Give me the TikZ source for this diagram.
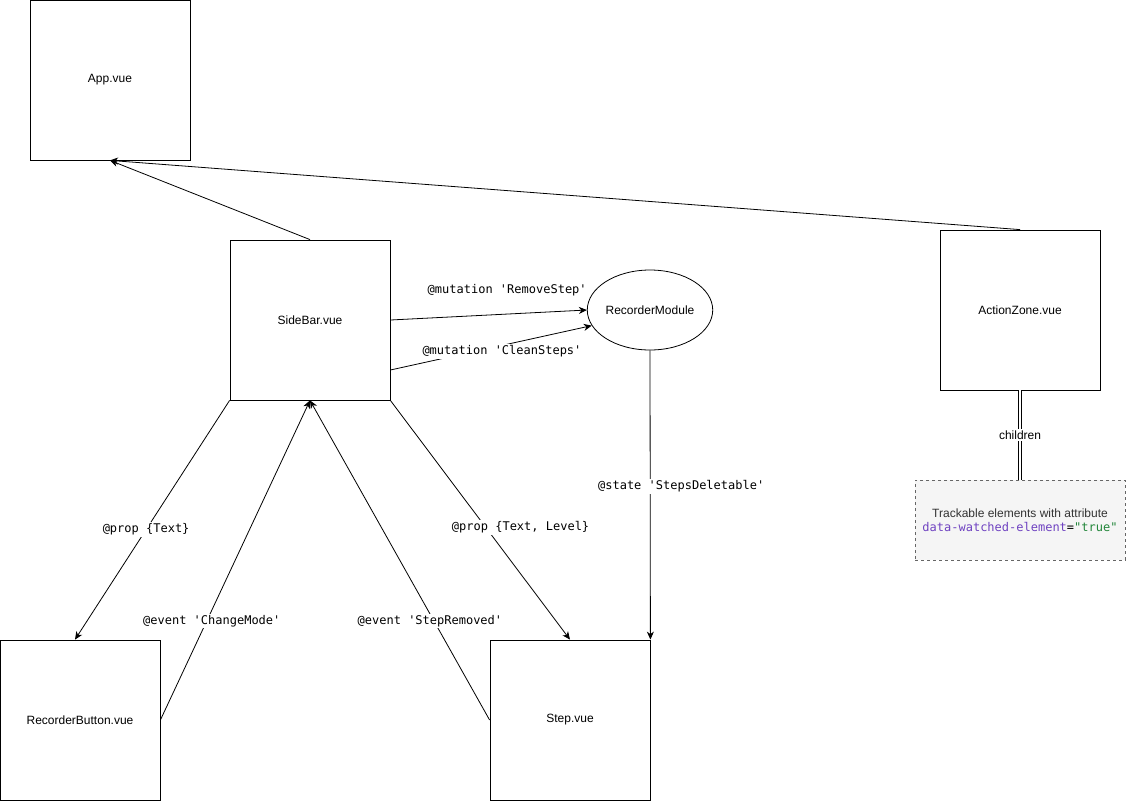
\documentclass[tikz,border=0pt]{standalone}
\usepackage{fontspec}
\setmainfont{Liberation Sans}
\setmonofont{DejaVu Sans Mono}
\usetikzlibrary{shapes.geometric, arrows.meta}
\definecolor{attrpurple}{HTML}{6F42C1}
\definecolor{attrgreen}{HTML}{22863A}
\definecolor{notefill}{HTML}{F5F5F5}
\definecolor{noteline}{HTML}{666666}
\definecolor{notetext}{HTML}{333333}
\newcommand\diafont{\fontsize{12pt}{14pt}\selectfont}
\tikzset{
  >={Stealth[length=8pt, width=7pt, inset=2.5pt]},
  comp/.style={draw, fill=white, minimum width=160pt, minimum height=160pt, inner sep=0pt},
  store/.style={draw, ellipse, fill=white, minimum width=120pt, minimum height=80pt, inner sep=0pt},
  note/.style={draw=noteline, dash pattern=on 3pt off 3pt, fill=notefill, text=notetext,
    minimum width=210pt, minimum height=80pt, inner sep=0pt, align=center},
  lbl/.style={fill=white, font=\diafont\ttfamily, inner sep=1.5pt},
  plainlbl/.style={fill=white, font=\diafont, inner sep=1.5pt},
}
\begin{document}
\begin{tikzpicture}[x=1pt, y=-1pt, line width=0.8pt, font=\diafont]
    \useasboundingbox (0,0) rectangle (1126,801);
    \draw (110,80)node(app)[comp]{App.vue}
    (310,320)node(sidebar)[comp]{SideBar.vue}
    (1020,310)node(zone)[comp]{ActionZone.vue}
    (650,310)node(recmod)[store]{RecorderModule}
    (80,720)node(recbtn)[comp]{RecorderButton.vue}
    (570,720)node(step)[comp]{Step.vue}
    (1020,520)node(track)[note]{Trackable elements with attribute\\{\ttfamily\color{attrpurple}data-watched-element\color{black}=\color{attrgreen}"true"}};
    \draw [->](sidebar.north)--(app.south);
    \draw [->](zone.north)--(app.south);
    \draw [->](sidebar.east)--(recmod.west)
      node[lbl, fill=none, pos=0.62, yshift=24pt, xshift=-5pt]{@mutation 'RemoveStep'};
    \draw [->]([yshift=-50pt]sidebar.east)--(recmod.195)
      node[lbl, pos=0.42, xshift=27pt]{@mutation 'CleanSteps'};
    \draw [->](recmod.south)--(step.north east)
      node[lbl, pos=0.47, xshift=31pt]{@state 'StepsDeletable'};
    \draw [double, double distance=2pt](zone.south)--(track.north)
      node[plainlbl, midway]{children};
    \draw [->](sidebar.south west)--([xshift=-5pt]recbtn.north)
      node[lbl, pos=0.54]{@prop \{Text\}};
    \draw [->](recbtn.east)--(sidebar.south)
      node[lbl, pos=0.31, xshift=5pt]{@event 'ChangeMode'};
    \draw [->](step.west)--(sidebar.south)
      node[lbl, pos=0.31, xshift=-4pt]{@event 'StepRemoved'};
    \draw [->](sidebar.south east)--(step.north)
      node[lbl, pos=0.53, xshift=35pt]{@prop \{Text, Level\}};
\end{tikzpicture}
\end{document}
